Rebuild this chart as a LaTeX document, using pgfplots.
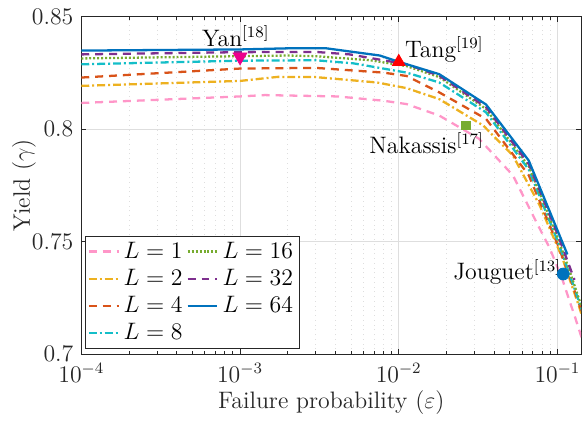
\documentclass[border=0pt]{standalone}
\usepackage{pgfplots}
\pgfplotsset{compat=1.18}
\definecolor{cL1}{RGB}{255,150,200}
\definecolor{cL2}{RGB}{237,177,32}
\definecolor{cL4}{RGB}{217,83,25}
\definecolor{cL8}{RGB}{20,190,200}
\definecolor{cL16}{RGB}{119,172,48}
\definecolor{cL32}{RGB}{126,47,142}
\definecolor{cL64}{RGB}{0,114,189}
\definecolor{axgray}{RGB}{38,38,38}
\definecolor{gridgray}{RGB}{222,222,222}

\pgfplotsset{
  solidline/.style={line width=1.15pt},
  dashedline/.style={line width=1.15pt, dash pattern=on 4pt off 3pt},
  dashdotline/.style={line width=1.15pt, dash pattern=on 4pt off 1.5pt on 1pt off 1.5pt},
  dottedline/.style={line width=1.15pt, dash pattern=on 1pt off 1pt},
}

\begin{document}
\begin{tikzpicture}
\begin{axis}[
  scale only axis,
  width=252pt, height=170pt,
  xmode=log,
  xmin=1e-4, xmax=0.141,
  ymin=0.7, ymax=0.85,
  xtick={1e-4,1e-3,1e-2,1e-1},
  ytick={0.7,0.75,0.8,0.85},
  yticklabels={$0.7$,$0.75$,$0.8$,$0.85$},
  tick align=inside,
  xtick pos=both, ytick pos=both,
  major tick length=2.5pt, minor tick length=1.5pt,
  xmajorgrids, xminorgrids, ymajorgrids,
  major grid style={draw=gridgray, line width=0.4pt},
  minor grid style={draw=gridgray, line width=0.4pt, dotted},
  axis line style={draw=axgray},
  every tick/.style={draw=axgray},
  tick label style={font=\large, text=axgray},
  xticklabel style={yshift=-1.2pt},
  yticklabel style={xshift=-0.5pt},
  label style={font=\large, text=axgray},
  xlabel={Failure probability ($\varepsilon$)},
  ylabel={Yield ($\gamma$)},
  xlabel style={at={(axis description cs:0.5,-0.161)}, anchor=base},
  ylabel style={at={(axis description cs:-0.103,0.5)}, anchor=base},
  legend columns=2,
  legend cell align=left,
  legend style={at={(axis description cs:0.008,0.015)}, anchor=south west,
    draw=axgray, fill=white, font=\large, inner sep=1pt,
    row sep=0pt},
  legend image code/.code={\draw[#1] (0pt,0pt) -- (15pt,0pt);},
]
% legend (column-major order as in the original)
\addlegendimage{cL1, dashedline}
\addlegendimage{cL16, dottedline}
\addlegendimage{cL2, dashdotline}
\addlegendimage{cL32, dashedline}
\addlegendimage{cL4, dashedline}
\addlegendimage{cL64, solidline}
\addlegendimage{cL8, dashdotline}
\legend{$L=1$, $L=16$, $L=2$, $L=32$, $L=4$, $L=64$, $L=8$}

% L = 1
\addplot[cL1, dashedline, forget plot] coordinates {
  (1e-4,0.8117) (1e-3,0.8146) (1.43e-3,0.8152) (4.1e-3,0.8146) (8e-3,0.8127)
  (1.12e-2,0.8112) (0.018,0.8061) (0.032,0.7958) (0.0524,0.7795) (0.0729,0.7593)
  (0.089,0.7474) (0.107,0.7335) (0.1296,0.7160) (0.15,0.702)};
% L = 2
\addplot[cL2, dashdotline, forget plot] coordinates {
  (1e-4,0.8193) (1e-3,0.8215) (1.73e-3,0.8233) (3e-3,0.8232) (7.3e-3,0.8208)
  (1.12e-2,0.8183) (0.018,0.8134) (0.034,0.8017) (0.0524,0.7883) (0.0771,0.7663)
  (0.107,0.7430) (0.137,0.7210) (0.15,0.712)};
% L = 4
\addplot[cL4, dashedline, forget plot] coordinates {
  (1e-4,0.8230) (1e-3,0.8270) (3e-3,0.8273) (8e-3,0.8252) (1.12e-2,0.8237)
  (0.018,0.8164) (0.0355,0.8046) (0.066,0.7795) (0.1,0.7490) (0.12,0.7340)
  (0.15,0.714)};
% L = 8
\addplot[cL8, dashdotline, forget plot] coordinates {
  (1e-4,0.8289) (1e-3,0.8305) (3e-3,0.8307) (5.2e-3,0.8293) (1.12e-2,0.8252)
  (0.018,0.8208) (0.0355,0.8075) (0.066,0.7820) (0.1,0.7505) (0.12,0.7350)
  (0.15,0.715)};
% L = 16
\addplot[cL16, dottedline, forget plot] coordinates {
  (1e-4,0.8315) (1e-3,0.8325) (2e-3,0.8328) (3e-3,0.8325) (6.6e-3,0.8307)
  (1.12e-2,0.8281) (0.018,0.8232) (0.0355,0.8090) (0.066,0.7835) (0.1,0.7520)
  (0.12,0.7365) (0.15,0.716)};
% L = 32
\addplot[cL32, dashedline, forget plot] coordinates {
  (1e-4,0.8333) (1e-3,0.8343) (3e-3,0.8344) (4.9e-3,0.8333) (1.12e-2,0.8289)
  (0.018,0.8238) (0.0355,0.8098) (0.066,0.7845) (0.1,0.7535) (0.128,0.7330)};
% L = 64
\addplot[cL64, solidline, forget plot] coordinates {
  (1e-4,0.8350) (1e-3,0.8355) (2e-3,0.8360) (3.5e-3,0.8360) (7.6e-3,0.8328)
  (1e-2,0.8300) (0.018,0.8245) (0.0355,0.8110) (0.0659,0.7861) (0.1155,0.7443)};

% reference results
\addplot[only marks, mark=triangle*, mark size=4pt, color=magenta,
  mark options={rotate=180}, forget plot] coordinates {(1e-3,0.8322)};
\addplot[only marks, mark=triangle*, mark size=3.7pt, color=red, forget plot]
  coordinates {(1e-2,0.8300)};
\addplot[only marks, mark=square*, mark size=2.2pt, color=cL16, forget plot]
  coordinates {(0.0266,0.8017)};
\addplot[only marks, mark=*, mark size=3pt, color=cL64, forget plot]
  coordinates {(0.1087,0.7356)};

\node[anchor=base, font=\large, inner sep=0pt] at (axis cs:9.4e-4,0.8369) {Yan$^{[18]}$};
\node[anchor=base west, font=\large, inner sep=0pt] at (axis cs:0.0109,0.8319) {Tang$^{[19]}$};
\node[anchor=base west, font=\large, inner sep=0pt] at (axis cs:6.5e-3,0.7892) {Nakassis$^{[17]}$};
\node[anchor=base east, font=\large, inner sep=0pt] at (axis cs:0.106,0.7330) {Jouguet$^{[13]}$};
\end{axis}
\path (current axis.south west) ++(-41pt,-31.5pt);
\path (current axis.north east) ++(0pt,8.5pt);
\end{tikzpicture}
\end{document}
